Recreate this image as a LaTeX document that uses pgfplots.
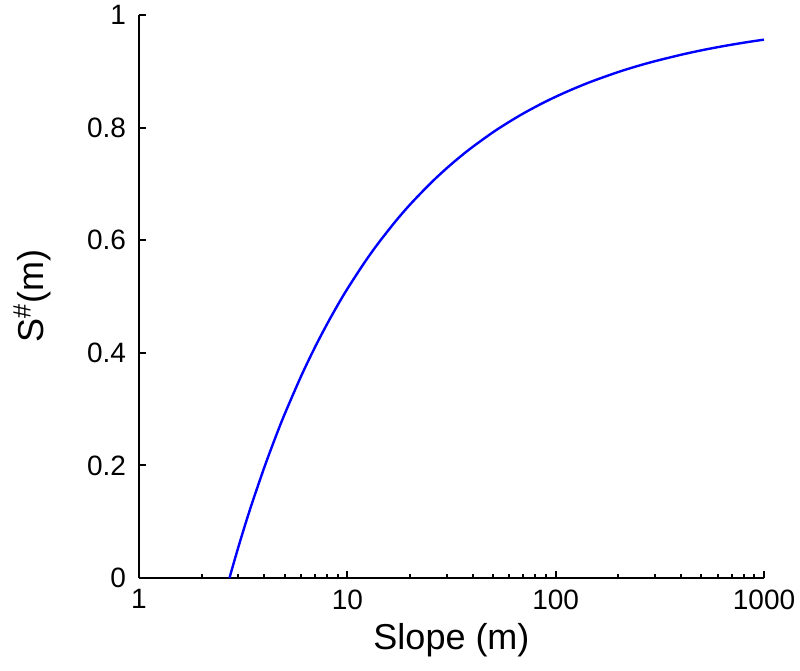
\documentclass[border=0pt]{standalone}
\usepackage{fontspec}
\setmainfont{Liberation Sans}
\usepackage{pgfplots}
\pgfplotsset{compat=1.18}
\usetikzlibrary{calc}
\begin{document}
\begin{tikzpicture}
\begin{axis}[
  name=ax,
  scale only axis,
  width=312.5pt, height=281.5pt,
  xmode=log, xmin=1, xmax=1000, ymin=0, ymax=1,
  axis x line*=bottom, axis y line*=left,
  axis line style={line width=1pt},
  tick align=inside,
  major tick length=3.6pt, minor tick length=1.8pt,
  every tick/.style={black, line width=1pt},
  xtick={1,10,100,1000}, xticklabels={1,10,100,1000},
  minor xtick={2,3,4,5,6,7,8,9,20,30,40,50,60,70,80,90,200,300,400,500,600,700,800,900},
  ytick={0,0.2,0.4,0.6,0.8,1},
  yticklabels={0,0.2,0.4,0.6,0.8,1},
  /pgf/number format/assume math mode=true,
  tick label style={font=\fontsize{14}{16}\selectfont},
  xticklabel style={yshift=-2.3pt},
  yticklabel style={xshift=-3pt},
  xlabel={Slope (m)},
  ylabel={S\textsuperscript{\#}(m)},
  label style={font=\fontsize{18}{21}\selectfont},
  xlabel style={at={(axis description cs:0.5,-0.110)}, anchor=center},
  ylabel style={at={(axis description cs:-0.171,0.5)}, anchor=center},
  clip=false,
]
\addplot[color={rgb,255:red,0;green,0;blue,255}, line width=1.2pt, smooth] coordinates {
(2.71828,0) (2.8,0.0169) (3,0.0551) (3.25,0.0973) (3.5,0.1344) (4,0.1971)
(4.5,0.2481) (5,0.2909) (6,0.3585) (7,0.4102) (8,0.4513) (9,0.4851)
(10,0.5135) (12,0.5586) (14,0.5934) (17,0.6331) (20,0.6633) (25,0.7006)
(30,0.7279) (35,0.7490) (40,0.7659) (50,0.7917) (60,0.8105) (70,0.8252)
(85,0.8420) (100,0.8548) (120,0.8679) (150,0.8824) (200,0.8988) (250,0.9099)
(300,0.9180) (400,0.9294) (500,0.9372) (600,0.9429) (700,0.9473) (850,0.9524)
(1000,0.9562)
};
\end{axis}
\pgfresetboundingbox
\path[use as bounding box] ($(ax.south west)+(-69.5pt,-46.5pt)$) rectangle ($(ax.north east)+(18pt,7.5pt)$);
\end{tikzpicture}
\end{document}
